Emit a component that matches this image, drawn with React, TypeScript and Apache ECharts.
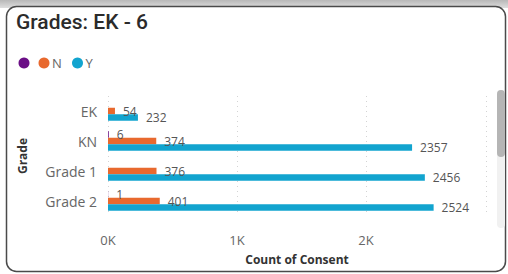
import React, { useEffect, useRef } from "react";
import * as echarts from "echarts";

const categories = ["EK", "KN", "Grade 1", "Grade 2"];
const blankValues: (number | null)[] = [null, 6, null, 1];
const nValues = [54, 374, 376, 401];
const yValues = [232, 2357, 2456, 2524];
const legendNames = ["", "N", "Y"];
const colors = ["#6B0F86", "#E8692E", "#12A4CF"];

export default function App() {
  const ref = useRef<HTMLDivElement>(null);
  useEffect(() => {
    if (!ref.current) return;
    const chart = echarts.init(ref.current, null, { renderer: "svg" });
    const font = "Open Sans";
    const labelStyle = {
      show: true,
      position: "right" as const,
      distance: 8,
      color: "#555",
      fontSize: 12,
      fontFamily: font,
      formatter: (p: any) => (p.value == null ? "" : String(p.value)),
    };
    const seriesData = [blankValues, nValues, yValues];
    chart.setOption({
      animation: false,
      backgroundColor: "#ffffff",
      graphic: [
        {
          type: "rect",
          shape: { x: 0, y: 0, width: 508, height: 8 },
          style: {
            fill: new echarts.graphic.LinearGradient(0, 0, 0, 1, [
              { offset: 0, color: "#b8b8b8" },
              { offset: 1, color: "#dedede" },
            ]),
          },
          z: -10,
        },
        {
          type: "rect",
          shape: { x: 6.5, y: 6.5, width: 499, height: 265, r: 10 },
          style: { fill: "#ffffff", stroke: "#4a4a4a", lineWidth: 1.5 },
          z: -9,
        },
        {
          type: "text",
          x: 16,
          y: 11,
          style: { text: "Grades: EK - 6", fontSize: 21, fontFamily: "Roboto", fill: "#2b2b2b", fontWeight: 500 },
        },
        ...legendNames.flatMap((name, i) => {
          const cx = [24, 44, 77.5][i];
          const els: any[] = [
            { type: "circle", shape: { cx, cy: 63, r: 5.5 }, style: { fill: colors[i] } },
          ];
          if (name)
            els.push({
              type: "text",
              x: cx + 8,
              y: 63,
              style: { text: name, fontSize: 13, fontFamily: font, fill: "#666", textVerticalAlign: "middle" },
            });
          return els;
        }),
        {
          type: "rect",
          shape: { x: 497, y: 90, width: 8, height: 138, r: 4 },
          style: { fill: "#f1f1f1" },
        },
        {
          type: "rect",
          shape: { x: 497, y: 90, width: 8, height: 67, r: 4 },
          style: { fill: "#b5b5b5" },
        },
      ],
      grid: { left: 108, top: 96, height: 120, right: 22 },
      xAxis: {
        type: "value",
        min: 0,
        max: 2930,
        interval: 1000,
        name: "Count of Consent",
        nameLocation: "middle",
        nameGap: 37,
        nameTextStyle: { color: "#333", fontSize: 12, fontWeight: "bold", fontFamily: font },
        axisLine: { show: false },
        axisTick: { show: false },
        axisLabel: {
          color: "#666",
          fontSize: 13,
          fontFamily: font,
          margin: 17,
          showMaxLabel: false,
          formatter: (v: number) => v / 1000 + "K",
        },
        splitLine: { show: true, lineStyle: { color: "#d4d4d4", type: [1, 4], width: 1 } },
      },
      yAxis: {
        type: "category",
        data: categories,
        inverse: true,
        name: "Grade",
        nameLocation: "middle",
        nameGap: 80,
        nameTextStyle: { color: "#333", fontSize: 12, fontWeight: "bold", fontFamily: font },
        axisLine: { show: false },
        axisTick: { show: false },
        axisLabel: { color: "#666", fontSize: 14, fontFamily: font, margin: 11 },
      },
      series: legendNames.map((name, i) => ({
        type: "bar",
        name: name || " ",
        data: seriesData[i],
        barWidth: 6.5,
        barGap: "0%",
        itemStyle: { color: colors[i] },
        label: labelStyle,
      })),
    });
    return () => chart.dispose();
  }, []);
  return (
    <div
      ref={ref}
      style={{ position: "fixed", left: 0, top: 0, width: 508, height: 274 }}
    />
  );
}
